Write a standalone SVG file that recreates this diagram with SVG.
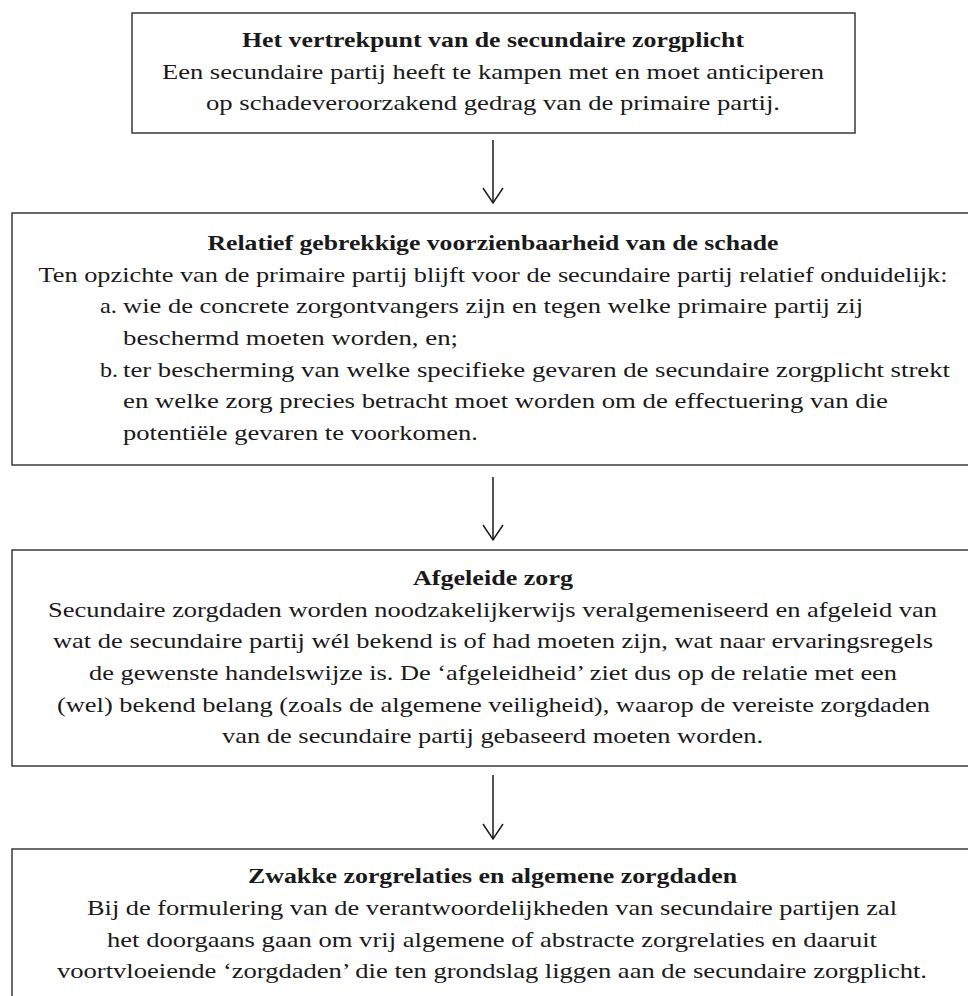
<svg xmlns="http://www.w3.org/2000/svg" width="968" height="996" viewBox="0 0 968 996">
<defs>
<style>
.box{fill:#fff;stroke:#3a3a3a;stroke-width:1.5}
.t{font-family:"Liberation Serif","Times New Roman",serif;font-size:21.5px;fill:#1a1a1a}
.b{font-weight:bold}
.c{text-anchor:middle}
.conn{stroke:#1a1a1a;stroke-width:1.5;fill:none}
</style>
<marker id="arr" viewBox="-1 -1 18 22" refX="15" refY="10" markerWidth="18" markerHeight="22" markerUnits="userSpaceOnUse" orient="auto">
<path d="M0,0 L15,10 L0,20" fill="none" stroke="#1a1a1a" stroke-width="1.5"/>
</marker>
</defs>
<rect width="968" height="996" fill="#fff"/>

<g id="connectors">
<line class="conn" x1="493" y1="140" x2="493" y2="203" marker-end="url(#arr)"/>
<line class="conn" x1="493" y1="477" x2="493" y2="540" marker-end="url(#arr)"/>
<line class="conn" x1="493" y1="775" x2="493" y2="839" marker-end="url(#arr)"/>
</g>

<g id="node-vertrekpunt">
<rect class="box" x="132" y="13" width="723" height="120"/>
<text class="t b c" x="493" y="47" textLength="502" lengthAdjust="spacingAndGlyphs">Het vertrekpunt van de secundaire zorgplicht</text>
<text class="t c" x="493" y="79" textLength="662" lengthAdjust="spacingAndGlyphs">Een secundaire partij heeft te kampen met en moet anticiperen</text>
<text class="t c" x="493" y="110" textLength="574" lengthAdjust="spacingAndGlyphs">op schadeveroorzakend gedrag van de primaire partij.</text>
</g>

<g id="node-voorzienbaarheid">
<rect class="box" x="12" y="213" width="966" height="252"/>
<text class="t b c" x="493" y="250" textLength="571" lengthAdjust="spacingAndGlyphs">Relatief gebrekkige voorzienbaarheid van de schade</text>
<text class="t c" x="493" y="282" textLength="909" lengthAdjust="spacingAndGlyphs">Ten opzichte van de primaire partij blijft voor de secundaire partij relatief onduidelijk:</text>
<text class="t" x="100" y="313" textLength="17" lengthAdjust="spacingAndGlyphs">a.</text>
<text class="t" x="123" y="313" textLength="740" lengthAdjust="spacingAndGlyphs">wie de concrete zorgontvangers zijn en tegen welke primaire partij zij</text>
<text class="t" x="123" y="345" textLength="335" lengthAdjust="spacingAndGlyphs">beschermd moeten worden, en;</text>
<text class="t" x="100" y="377" textLength="18" lengthAdjust="spacingAndGlyphs">b.</text>
<text class="t" x="123" y="377" textLength="827" lengthAdjust="spacingAndGlyphs">ter bescherming van welke specifieke gevaren de secundaire zorgplicht strekt</text>
<text class="t" x="123" y="408" textLength="765" lengthAdjust="spacingAndGlyphs">en welke zorg precies betracht moet worden om de effectuering van die</text>
<text class="t" x="123" y="440" textLength="355" lengthAdjust="spacingAndGlyphs">potentiële gevaren te voorkomen.</text>
</g>

<g id="node-afgeleide-zorg">
<rect class="box" x="12" y="550" width="966" height="216"/>
<text class="t b c" x="493" y="585" textLength="160" lengthAdjust="spacingAndGlyphs">Afgeleide zorg</text>
<text class="t c" x="492.5" y="617" textLength="889" lengthAdjust="spacingAndGlyphs">Secundaire zorgdaden worden noodzakelijkerwijs veralgemeniseerd en afgeleid van</text>
<text class="t c" x="493" y="648" textLength="880" lengthAdjust="spacingAndGlyphs">wat de secundaire partij wél bekend is of had moeten zijn, wat naar ervaringsregels</text>
<text class="t c" x="493" y="680" textLength="808" lengthAdjust="spacingAndGlyphs">de gewenste handelswijze is. De ‘afgeleidheid’ ziet dus op de relatie met een</text>
<text class="t c" x="493.5" y="712" textLength="873" lengthAdjust="spacingAndGlyphs">(wel) bekend belang (zoals de algemene veiligheid), waarop de vereiste zorgdaden</text>
<text class="t c" x="492.5" y="743" textLength="541" lengthAdjust="spacingAndGlyphs">van de secundaire partij gebaseerd moeten worden.</text>
</g>

<g id="node-zwakke-zorgrelaties">
<rect class="box" x="12" y="849" width="966" height="170"/>
<text class="t b c" x="492.5" y="883" textLength="489" lengthAdjust="spacingAndGlyphs">Zwakke zorgrelaties en algemene zorgdaden</text>
<text class="t c" x="492" y="915" textLength="810" lengthAdjust="spacingAndGlyphs">Bij de formulering van de verantwoordelijkheden van secundaire partijen zal</text>
<text class="t c" x="492" y="947" textLength="770" lengthAdjust="spacingAndGlyphs">het doorgaans gaan om vrij algemene of abstracte zorgrelaties en daaruit</text>
<text class="t c" x="492" y="978" textLength="870" lengthAdjust="spacingAndGlyphs">voortvloeiende ‘zorgdaden’ die ten grondslag liggen aan de secundaire zorgplicht.</text>
</g>
</svg>
